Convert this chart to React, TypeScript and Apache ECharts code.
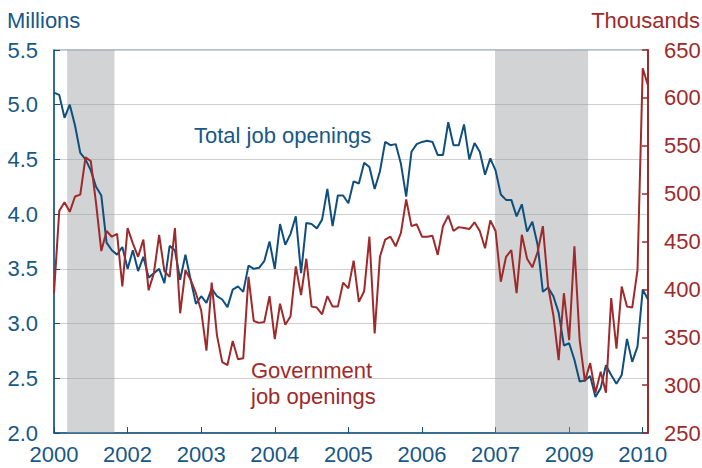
import React, { useEffect, useRef } from "react";
import * as echarts from "echarts";

// Monthly index 0 = Dec 2000
const totalOpenings: number[] = [
  5.11, 5.09, 4.88, 5.0, 4.81, 4.56, 4.5, 4.4, 4.25, 4.17,
  3.74, 3.67, 3.63, 3.7, 3.5, 3.67, 3.48, 3.61, 3.42, 3.46,
  3.5, 3.37, 3.71, 3.67, 3.4, 3.63, 3.4, 3.18, 3.25, 3.19,
  3.32, 3.25, 3.22, 3.15, 3.31, 3.34, 3.29, 3.53, 3.5, 3.51,
  3.57, 3.75, 3.5, 3.91, 3.72, 3.82, 3.98, 3.46, 3.92, 3.91,
  3.87, 3.95, 4.23, 3.89, 4.17, 4.17, 4.1, 4.3, 4.28, 4.47,
  4.43, 4.23, 4.39, 4.66, 4.63, 4.64, 4.46, 4.16, 4.57, 4.64,
  4.66, 4.67, 4.66, 4.54, 4.54, 4.84, 4.63, 4.63, 4.82, 4.5,
  4.65, 4.57, 4.36, 4.51, 4.4, 4.18, 4.13, 4.13, 3.98, 4.09,
  3.84, 3.93, 3.72, 3.29, 3.33, 3.25, 3.1, 2.8, 2.82, 2.67,
  2.47, 2.48, 2.52, 2.33, 2.41, 2.62, 2.53, 2.45, 2.53, 2.86,
  2.65, 2.79, 3.31, 3.22,
];

const govOpenings: number[] = [
  396, 482, 491, 481, 497, 499, 538, 534, 490, 440,
  461, 455, 458, 403, 464, 448, 434, 452, 399, 417,
  457, 419, 413, 464, 375, 420, 410, 396, 378, 336,
  407, 352, 324, 321, 346, 327, 328, 413, 367, 365,
  366, 393, 348, 385, 363, 372, 424, 394, 432, 382,
  381, 374, 393, 382, 382, 407, 401, 430, 387, 398,
  455, 354, 434, 452, 455, 445, 459, 494, 466, 468,
  455, 455, 456, 436, 466, 477, 461, 465, 464, 463,
  470, 461, 443, 472, 461, 408, 434, 441, 396, 457,
  432, 423, 439, 466, 403, 373, 326, 396, 347, 445,
  347, 304, 323, 292, 314, 292, 391, 338, 403, 382,
  381, 420, 631, 613,
];

const xTickMonths: number[] = [0, 14, 28, 42, 56, 70, 84, 98, 112];
const xTickLabels: string[] = ["2000", "2002", "2003", "2004", "2005", "2006", "2007", "2009", "2010"];

const recessions: [number, number][] = [
  [2.5, 11.5],
  [83.9, 101.6],
];

const BLUE = "#0f4f7d";
const BLUE_TEXT = "#175887";
const RED = "#9e2a2b";
const FONT = "'Liberation Sans', Arial, Helvetica, sans-serif";

export default function App() {
  const ref = useRef<HTMLDivElement>(null);

  useEffect(() => {
    document.body.style.margin = "0";
    if (!ref.current) return;
    const chart = echarts.init(ref.current, undefined, { renderer: "svg" });

    const option: any = {
      animation: false,
      textStyle: { fontFamily: FONT },
      grid: {
        left: 54,
        right: 54,
        top: 50,
        bottom: 35,
        show: true,
        borderColor: "#5f84a3",
        borderWidth: 1,
        backgroundColor: "transparent",
        containLabel: false,
        outerBoundsMode: "none",
      },
      xAxis: {
        type: "value",
        min: 0,
        max: totalOpenings.length - 1,
        axisLine: { show: true, lineStyle: { color: BLUE, width: 1.5 } },
        axisTick: {
          show: true,
          inside: true,
          length: 6,
          customValues: xTickMonths,
          lineStyle: { color: BLUE, width: 1 },
        },
        axisLabel: {
          customValues: xTickMonths,
          formatter: (v: number) => {
            const idx = xTickMonths.indexOf(Math.round(v));
            return idx >= 0 ? xTickLabels[idx] : "";
          },
          color: BLUE_TEXT,
          fontSize: 22,
          fontFamily: FONT,
          margin: 10,
        },
        splitLine: { show: false },
      },
      yAxis: [
        {
          type: "value",
          position: "left",
          min: 2,
          max: 5.5,
          interval: 0.5,
          axisLine: { show: true, lineStyle: { color: BLUE, width: 1.5 } },
          axisTick: { show: true, inside: true, length: 6, lineStyle: { color: BLUE, width: 1 } },
          axisLabel: {
            formatter: (v: number) => v.toFixed(1),
            color: BLUE_TEXT,
            fontSize: 22,
            fontFamily: FONT,
            margin: 16,
          },
          splitLine: { show: true, lineStyle: { color: "#cfcfcf", width: 1.2 } },
        },
        {
          type: "value",
          position: "right",
          min: 250,
          max: 650,
          interval: 50,
          axisLine: { show: true, lineStyle: { color: RED, width: 2 } },
          axisTick: { show: true, inside: true, length: 6, lineStyle: { color: RED, width: 1.5 } },
          axisLabel: {
            color: RED,
            fontSize: 22,
            fontFamily: FONT,
            margin: 16,
          },
          splitLine: { show: false },
        },
      ],
      series: [
        {
          type: "line",
          name: "Total job openings",
          yAxisIndex: 0,
          data: totalOpenings.map((v, i) => [i, v]),
          showSymbol: false,
          lineStyle: { color: BLUE, width: 2 },
          itemStyle: { color: BLUE },
          z: 3,
          markArea: {
            silent: true,
            itemStyle: { color: "rgba(150,153,157,0.43)" },
            data: recessions.map(([s, e]) => [{ xAxis: s }, { xAxis: e }]),
          },
        },
        {
          type: "line",
          name: "Government job openings",
          yAxisIndex: 1,
          data: govOpenings.map((v, i) => [i, v]),
          showSymbol: false,
          lineStyle: { color: RED, width: 2 },
          itemStyle: { color: RED },
          z: 4,
        },
      ],
      graphic: [
        {
          type: "text",
          x: 7,
          y: 20,
          style: { text: "Millions", fill: BLUE_TEXT, font: `22px ${FONT}`, textAlign: "left", textVerticalAlign: "middle" },
        },
        {
          type: "text",
          x: 700,
          y: 20,
          style: { text: "Thousands", fill: RED, font: `22px ${FONT}`, textAlign: "right", textVerticalAlign: "middle" },
        },
        {
          type: "text",
          x: 194,
          y: 135,
          style: { text: "Total job openings", fill: BLUE_TEXT, font: `22px ${FONT}`, textAlign: "left", textVerticalAlign: "middle" },
        },
        {
          type: "text",
          x: 251,
          y: 370,
          style: { text: "Government", fill: RED, font: `22px ${FONT}`, textAlign: "left", textVerticalAlign: "middle" },
        },
        {
          type: "text",
          x: 251,
          y: 396,
          style: { text: "job openings", fill: RED, font: `22px ${FONT}`, textAlign: "left", textVerticalAlign: "middle" },
        },
      ],
    };

    chart.setOption(option);
    return () => chart.dispose();
  }, []);

  return <div ref={ref} style={{ width: 702, height: 468 }} />;
}
